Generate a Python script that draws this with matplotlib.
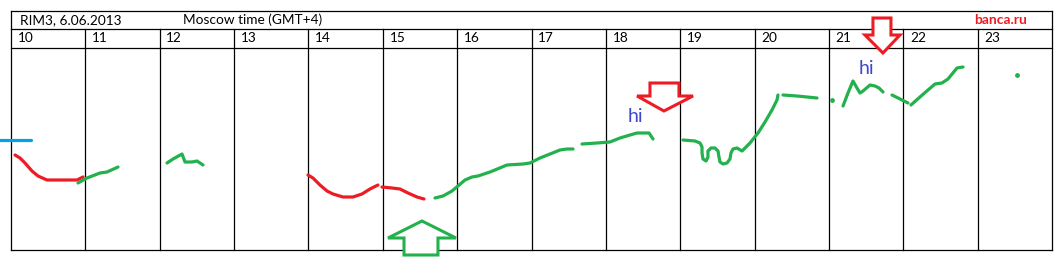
import matplotlib.pyplot as plt
from matplotlib.patches import Polygon

# hand-drawn quote sketch, x = hour of day, y = price level (arbitrary units)
hours = list(range(10, 24))
hour_labels = [str(h) for h in hours]

blue_x = [9.85, 10.27]
blue_y = [110, 110]

red_segments = [
    ([10.054, 10.121, 10.188, 10.282, 10.363, 10.484, 10.888, 10.968],
     [95, 92, 87, 79, 74, 70, 70, 73]),
    ([13.994, 14.061, 14.155, 14.250, 14.330, 14.465, 14.599, 14.720, 14.828, 14.935],
     [75, 72, 65, 59, 56, 53, 53, 56, 61, 65]),
    ([14.989, 15.124, 15.231, 15.339, 15.460, 15.554],
     [63, 62, 61, 57, 53, 51]),
]

green_segments = [
    ([10.901, 11.022, 11.197, 11.291, 11.439],
     [67, 72, 77, 78, 83]),
    ([12.098, 12.179, 12.300, 12.340, 12.434, 12.501, 12.582],
     [87, 91, 96, 88, 88, 89, 85]),
    ([15.702, 15.810, 15.931, 16.011, 16.105, 16.200, 16.280, 16.442, 16.670, 16.885,
      16.980, 17.114, 17.249, 17.383, 17.477, 17.558],
     [52, 54, 59, 64, 70, 73, 74, 78, 85, 86, 87, 92, 96, 100, 101, 101]),
    ([17.679, 17.881, 18.055, 18.190, 18.324, 18.419, 18.580, 18.634],
     [106, 107, 108, 112, 115, 117, 117, 111]),
    ([19.037, 19.198, 19.266, 19.293, 19.293, 19.306, 19.347, 19.373, 19.373, 19.413,
      19.467, 19.508, 19.521, 19.535, 19.575, 19.629, 19.669, 19.682, 19.709, 19.763,
      19.831, 19.885, 19.938, 20.046, 20.140, 20.234, 20.301, 20.314],
     [110, 109, 107, 103, 97, 91, 89, 93, 99, 102,
      102, 99, 93, 88, 86, 87, 91, 97, 101, 102,
      99, 103, 107, 117, 128, 140, 150, 155]),
    ([20.382, 20.570, 20.839],
     [155, 154, 152]),
    ([21.189, 21.256, 21.323, 21.377, 21.417, 21.458, 21.552, 21.619, 21.673, 21.727],
     [144, 157, 169, 162, 157, 159, 165, 164, 162, 158]),
    ([21.848, 21.956, 22.063],
     [155, 151, 147]),
    ([22.103, 22.224, 22.332, 22.426, 22.520, 22.601, 22.722, 22.803],
     [145, 153, 160, 166, 167, 171, 182, 183]),
]

green_dots_x = [21.041, 23.529]
green_dots_y = [150, 175]

hi_x = [18.392, 21.498]
hi_y = [133, 182]

# arrow outlines (hour, level)
arrow_red_1 = [(18.593, 167), (18.983, 167), (18.983, 154), (19.172, 154),
               (18.781, 139), (18.419, 154), (18.593, 154)]
arrow_red_2 = [(21.592, 232), (21.834, 232), (21.834, 215), (21.955, 215),
               (21.726, 197), (21.484, 215), (21.592, 215)]
arrow_green = [(15.285, -5), (15.742, -5), (15.742, 12), (15.984, 12),
               (15.527, 29), (15.070, 12), (15.285, 12)]

RED = '#ed1c24'
GREEN = '#22b14c'
BLUE = '#00a2e8'
HI = '#3f48cc'

plt.rcParams['font.family'] = ['Lato', 'DejaVu Sans']

fig = plt.figure(figsize=(10.64, 2.70), dpi=100, facecolor='w')
ax = fig.add_axes([0, 0, 1, 1])
ax.set_xlim(9.852, 24.161)
ax.set_ylim(-20, 250)
ax.axis('off')

# table grid
top, row1, row2, bottom = 239, 221, 202, 0
lk = dict(color='black', lw=0.9, zorder=1)
ax.plot([10, 24], [top, top], **lk)
ax.plot([10, 24], [row1, row1], **lk)
ax.plot([10, 24], [row2, row2], **lk)
ax.plot([10, 24], [bottom, bottom], **lk)
ax.plot([10, 10], [bottom, top], **lk)
ax.plot([24, 24], [bottom, top], **lk)
for h in hours[1:]:
    ax.plot([h, h], [bottom, row1], **lk)
for h, lab in zip(hours, hour_labels):
    ax.text(h + 0.09, (row1 + row2) / 2, lab, fontsize=9.8, va='center', ha='left')

ax.text(10.12, (top + row1) / 2, 'RIM3, 6.06.2013', fontsize=9.8, va='center', ha='left')
ax.text(12.31, (top + row1) / 2, 'Moscow time (GMT+4)', fontsize=9.8, va='center', ha='left')
ax.text(23.66, (top + row1) / 2, 'banca.ru', fontsize=10, va='center', ha='right',
        color=RED, fontweight='bold')

# strokes
sk = dict(lw=2.3, solid_capstyle='round', solid_joinstyle='round', zorder=3)
ax.plot(blue_x, blue_y, color=BLUE, **sk)
for xs, ys in red_segments:
    ax.plot(xs, ys, color=RED, **sk)
for xs, ys in green_segments:
    ax.plot(xs, ys, color=GREEN, **sk)
ax.scatter(green_dots_x, green_dots_y, s=6, color=GREEN, zorder=3)

for x, y in zip(hi_x, hi_y):
    ax.text(x, y, 'hi', fontsize=14, color=HI, ha='center', va='center', zorder=4)

for pts, col in [(arrow_red_1, RED), (arrow_red_2, RED), (arrow_green, GREEN)]:
    ax.add_patch(Polygon(pts, closed=True, facecolor='white', edgecolor=col,
                         lw=2.2, joinstyle='miter', zorder=5, clip_on=False))

plt.savefig('out.png', dpi=100, facecolor='w')
